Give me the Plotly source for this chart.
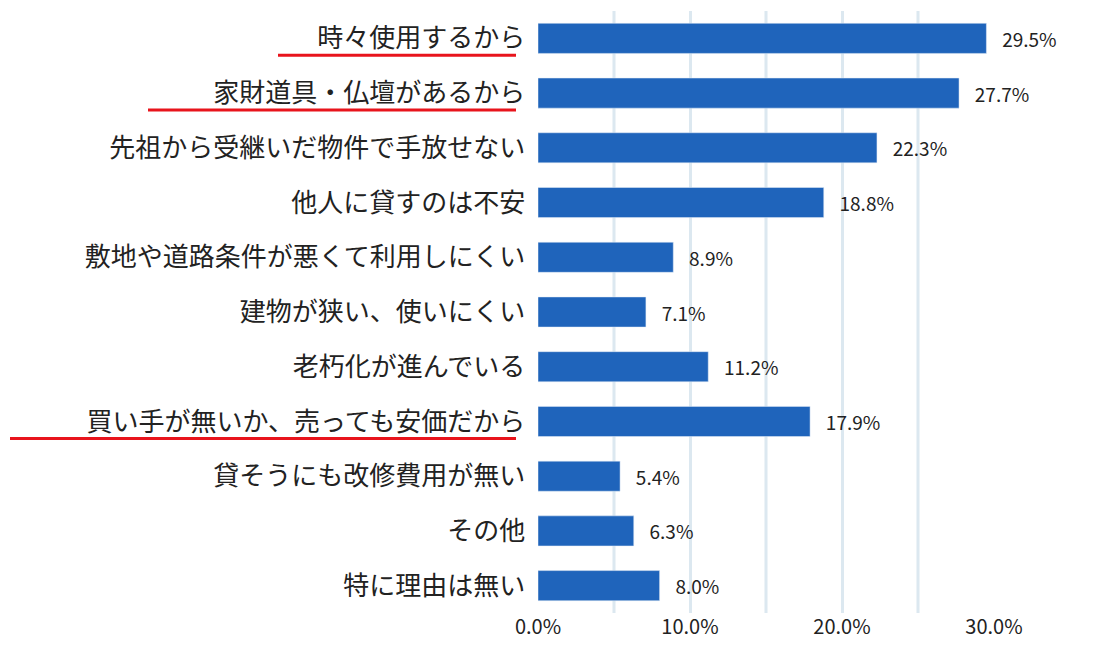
import plotly.graph_objects as go

reasons = ["時々使用するから", "家財道具・仏壇があるから", "先祖から受継いだ物件で手放せない",
           "他人に貸すのは不安", "敷地や道路条件が悪くて利用しにくい", "建物が狭い、使いにくい",
           "老朽化が進んでいる", "買い手が無いか、売っても安価だから", "貸そうにも改修費用が無い",
           "その他", "特に理由は無い"]
values = [29.5, 27.7, 22.3, 18.8, 8.9, 7.1, 11.2, 17.9, 5.4, 6.3, 8.0]
tick_vals = [0, 10, 20, 30]
tick_text = ["0.0%", "10.0%", "20.0%", "30.0%"]
underlined = {"時々使用するから": 270, "家財道具・仏壇があるから": 140, "買い手が無いか、売っても安価だから": 2}

L, R = 530, 110
W = 1096 - L - R

fig = go.Figure(go.Bar(
    x=values, y=reasons, orientation="h", width=0.55,
    marker_color="#1f64bb",
    text=[f"   {v:.1f}%" for v in values], textposition="outside",
    textfont=dict(size=19, color="#222"), cliponaxis=False,
))

shapes = []
for v in [5, 15, 25]:
    shapes.append(dict(type="line", xref="x", yref="paper", x0=v, x1=v, y0=0, y1=1,
                       line=dict(color="#dce8f0", width=3), layer="below"))
for name, px in underlined.items():
    yy = reasons.index(name) + 0.31
    shapes.append(dict(type="line", xref="paper", yref="y", x0=(px - L) / W, x1=(508 - L) / W,
                       y0=yy, y1=yy, line=dict(color="#e8141c", width=3)))

fig.update_layout(
    width=1096, height=650, margin=dict(l=L, r=R, t=3, b=45),
    plot_bgcolor="white", paper_bgcolor="white", showlegend=False,
    font=dict(family="Noto Sans CJK JP", size=26, color="#222"),
    shapes=shapes,
    xaxis=dict(range=[0, 30], tickvals=tick_vals, ticktext=tick_text, tickfont=dict(size=20),
               showgrid=True, gridcolor="#dce8f0", gridwidth=3, zeroline=False),
    yaxis=dict(autorange="reversed", ticksuffix="  ", showgrid=False, automargin=False),
)
fig.write_html("out.html")
